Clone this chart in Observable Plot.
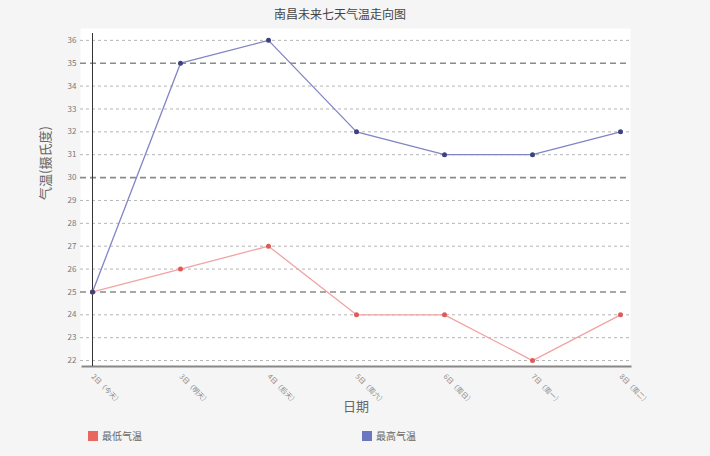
<!DOCTYPE html>
<html>
<head>
<meta charset="utf-8">
<script src="https://cdn.jsdelivr.net/npm/d3@7"></script>
<script src="https://cdn.jsdelivr.net/npm/@observablehq/plot@0.6"></script>
<style>
  html, body { margin: 0; padding: 0; background: #f5f5f5; }
  body { width: 710px; height: 456px; position: relative; overflow: hidden; font-family: "Noto Sans CJK SC", "Noto Sans", sans-serif; }
  #title { position: absolute; left: 0; top: 5px; width: 680px; text-align: center; font-size: 12px; color: #444; }
  #chart { position: absolute; left: 0; top: 0; }
  .leg { position: absolute; top: 428px; font-size: 10px; color: #666; display: flex; align-items: center; }
  .sw { width: 10px; height: 10px; margin-right: 4px; display: inline-block; }
</style>
</head>
<body>
<div id="chart"></div>
<div id="title">南昌未来七天气温走向图</div>
<div class="leg" style="left:88px"><span class="sw" style="background:#e8675f"></span>最低气温</div>
<div class="leg" style="left:362px"><span class="sw" style="background:#6a77c0"></span>最高气温</div>
<script>
const dates = ["2日（今天）", "3日（明天）", "4日（后天）", "5日（周六）", "6日（周日）", "7日（周一）", "8日（周二）"];
const lowTemps = [25, 26, 27, 24, 24, 22, 24];
const highTemps = [25, 35, 36, 32, 31, 31, 32];
const yTicks = [22, 23, 24, 25, 26, 27, 28, 29, 30, 31, 32, 33, 34, 35, 36];
const majorTicks = [25, 30, 35];
const minorTicks = yTicks.filter(t => !majorTicks.includes(t));

const low = dates.map((d, i) => ({date: d, value: lowTemps[i]}));
const high = dates.map((d, i) => ({date: d, value: highTemps[i]}));

const chart = Plot.plot({
  width: 710,
  height: 420,
  marginLeft: 91,
  marginRight: 90,
  marginTop: 33,
  marginBottom: 54,
  style: {background: "transparent", fontFamily: "Noto Sans CJK SC, sans-serif"},
  x: {type: "point", domain: dates, padding: 0},
  y: {domain: [21.74, 36.3]},
  marks: [
    Plot.frame({fill: "white", stroke: "none", insetLeft: -11, insetRight: -10, insetTop: -5}),
    Plot.ruleY(minorTicks, {stroke: "#b5b5b5", strokeWidth: 1, strokeDasharray: "3,3", insetLeft: -11, insetRight: -10}),
    Plot.ruleY(majorTicks, {stroke: "#8a8a8a", strokeWidth: 1.6, strokeDasharray: "6,4", insetLeft: -11, insetRight: -10}),
    Plot.frame({anchor: "bottom", stroke: "#888", strokeWidth: 2, insetLeft: -9, insetRight: -10}),
    Plot.ruleX([dates[0]], {stroke: "#333", strokeWidth: 1}),
    Plot.axisY({ticks: yTicks, tickSize: 0, tickPadding: 15, fontSize: 8, fill: "#777", label: null}),
    Plot.axisX({tickSize: 0, tickPadding: 9, tickRotate: 45, textAnchor: "start", fontSize: 7, fill: "#888", label: null}),
    Plot.text(["气温(摄氏度)"], {frameAnchor: "left", dx: -46, rotate: -90, fontSize: 13, fill: "#666"}),
    Plot.text(["日期"], {frameAnchor: "bottom", dy: 44, fontSize: 13, fill: "#666"}),
    Plot.line(low, {x: "date", y: "value", stroke: "#f2a3a3", strokeWidth: 1.3}),
    Plot.dot(low, {x: "date", y: "value", fill: "#e05a5a", r: 2.5}),
    Plot.line(high, {x: "date", y: "value", stroke: "#8084c4", strokeWidth: 1.3}),
    Plot.dot(high, {x: "date", y: "value", fill: "#3d4280", r: 2.5})
  ]
});
document.getElementById("chart").appendChild(chart);
</script>
</body>
</html>
